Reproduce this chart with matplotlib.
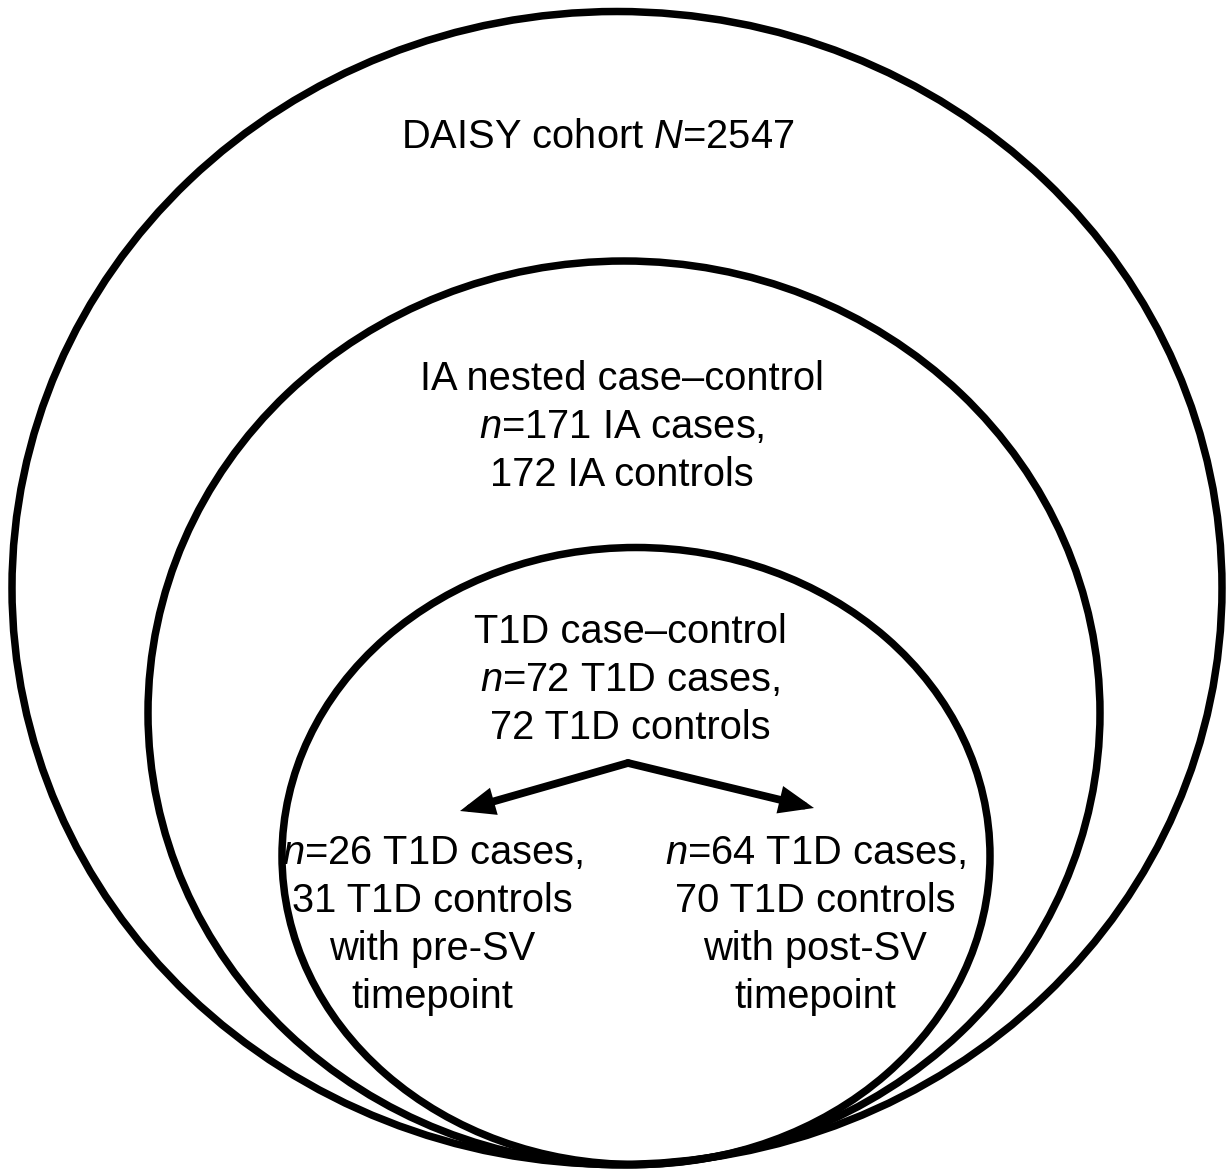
import matplotlib
matplotlib.use("Agg")
import matplotlib.pyplot as plt
from matplotlib.patches import Ellipse

plt.rcParams['font.family'] = ['Liberation Sans', 'DejaVu Sans']
plt.rcParams['mathtext.fontset'] = 'custom'
plt.rcParams['mathtext.rm'] = 'Liberation Sans'
plt.rcParams['mathtext.it'] = 'Liberation Sans:italic'

# Ellipses (pixel layout): center x, center y, width, height
ell_cx = [617, 624, 636]
ell_cy = [588, 713, 856]
ell_w = [1210, 952, 708]
ell_h = [1153, 904, 617]

labels = [
    "DAISY cohort $\\it{N}$=2547",
    "IA nested case\u2013control\n$\\it{n}$=171 IA cases,\n172 IA controls",
    "T1D case\u2013control\n$\\it{n}$=72 T1D cases,\n72 T1D controls",
    "$\\it{n}$=26 T1D cases,\n31 T1D controls\nwith pre-SV\ntimepoint",
    "$\\it{n}$=64 T1D cases,\n70 T1D controls\nwith post-SV\ntimepoint",
]
label_x = [598, 622, 630, 432, 815]
label_y = [137, 427, 680, 925, 925]

arrow_start = (628, 763)
arrow_ends = [(460, 811), (814, 808)]

fig = plt.figure(figsize=(12.31, 11.74), dpi=100)
ax = fig.add_axes([0, 0, 1, 1])
ax.set_xlim(0, 1231)
ax.set_ylim(1174, 0)
ax.axis('off')

for cx, cy, w, h in zip(ell_cx, ell_cy, ell_w, ell_h):
    ax.add_patch(Ellipse((cx, cy), w, h, fill=False, edgecolor='black', linewidth=5.4))

for t, x, y in zip(labels, label_x, label_y):
    ax.text(x, y, t, ha='center', va='center', fontsize=28.7, linespacing=1.33, color='black')

for end in arrow_ends:
    ax.annotate("", xy=end, xytext=arrow_start,
                arrowprops=dict(arrowstyle="-|>,head_length=1.5,head_width=0.6",
                                lw=5.6, color='black', shrinkA=0, shrinkB=0,
                                joinstyle='miter'))

fig.savefig("out.png", dpi=100, facecolor='white')
